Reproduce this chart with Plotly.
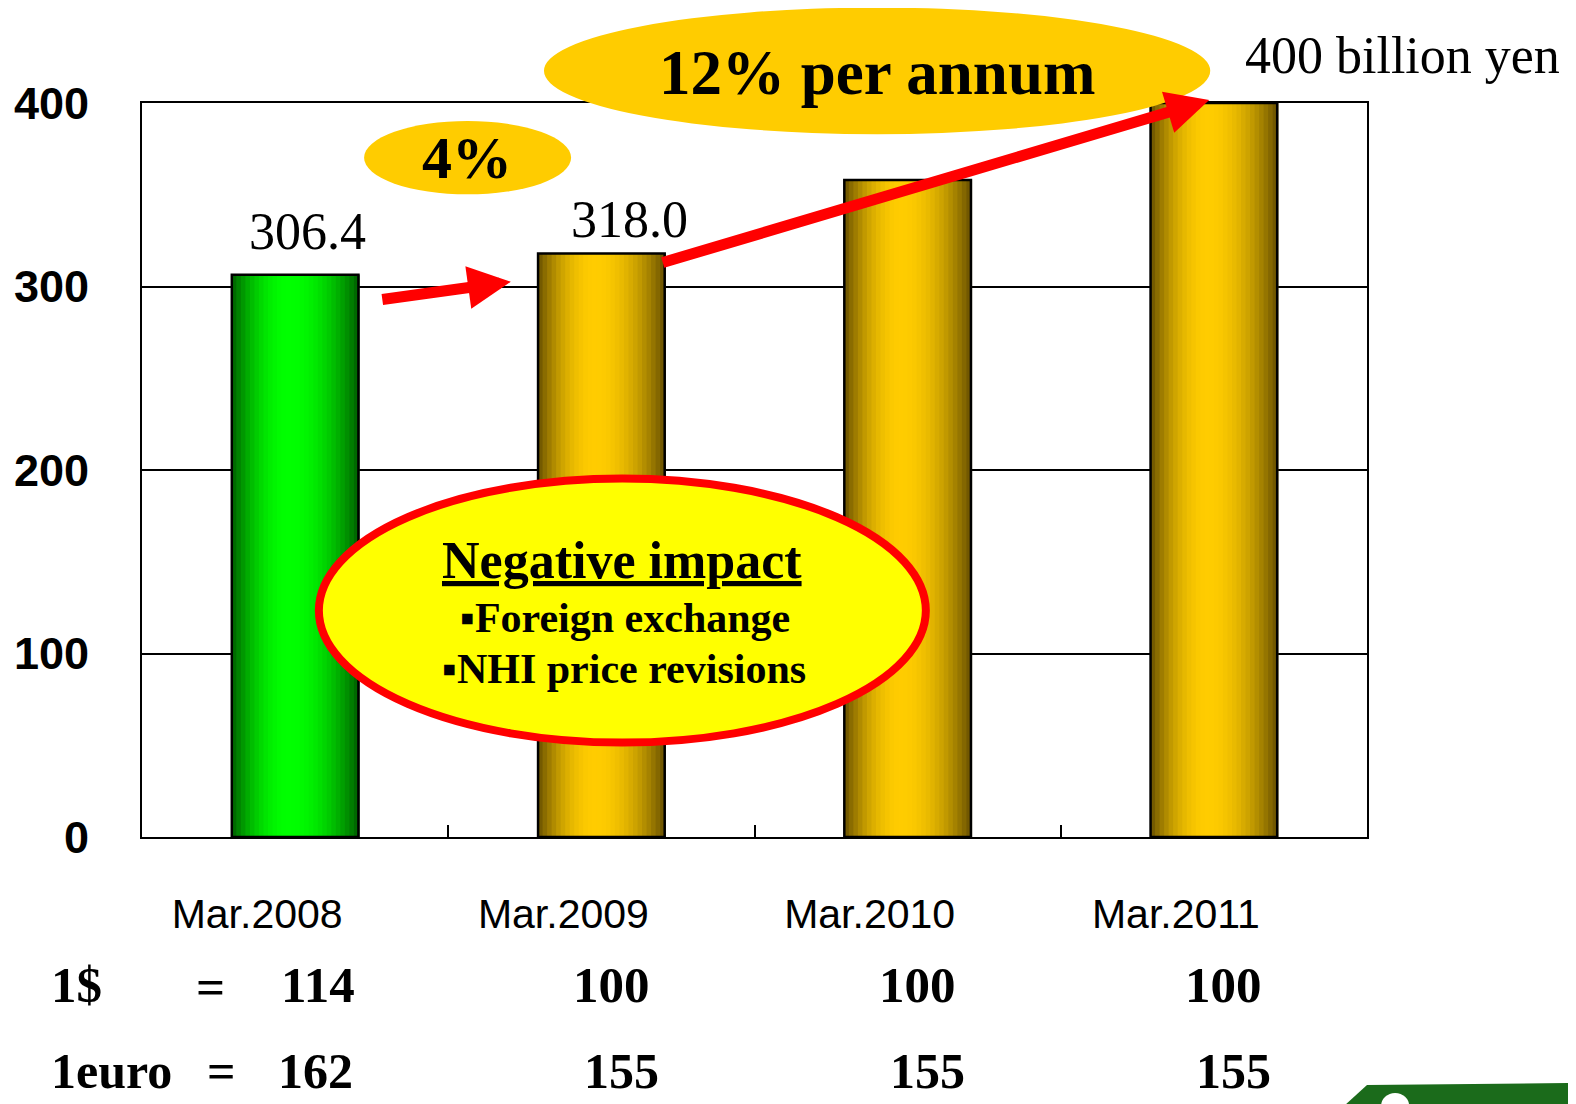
import plotly.graph_objects as go

# ---------------- data ----------------
categories = ["Mar.2008", "Mar.2009", "Mar.2010", "Mar.2011"]
sales = [306.4, 318.0, 358.0, 400.0]
value_labels = ["306.4", "318.0"]
usd_rates = [114, 100, 100, 100]
eur_rates = [162, 155, 155, 155]
y_ticks = [0, 100, 200, 300, 400]

# ---------------- layout helpers ----------------
W, H = 1576, 1104
S = 1576 / 1568.0   # measured positions -> full-size pixels
OFF = 8             # page body margin offset


def fx(x):
    return x * S - OFF


def fy(y):
    return y * S - OFF


L, R, T, B = fx(141), fx(1360), fy(102), fy(833)


def px(x):
    return (fx(x) - L) / (R - L)


def py(y):
    return (B - fy(y)) / (B - T)


SERIF = "Liberation Serif, Times New Roman, serif"
SANS = "Liberation Sans, Arial, sans-serif"

bar_w = 0.4135
n_slices = 28
slice_w = bar_w / n_slices


def shade(dark, bright, t, peak=0.45):
    if t < peak:
        f = 1 - ((peak - t) / peak) ** 2
    else:
        f = 1 - ((t - peak) / (1 - peak)) ** 2
    f = max(0.0, min(1.0, f))
    return "rgb(%d,%d,%d)" % tuple(round(d + (b - d) * f) for d, b in zip(dark, bright))


GOLD_D, GOLD_B = (104, 80, 0), (255, 204, 0)
GREEN_D, GREEN_B = (0, 95, 0), (0, 255, 0)

fig = go.Figure()
for i in range(n_slices):
    t = (i + 0.5) / n_slices
    cols = [shade(GREEN_D, GREEN_B, t)] + [shade(GOLD_D, GOLD_B, t)] * 3
    fig.add_trace(go.Bar(
        x=categories, y=sales, width=slice_w * 1.25, offset=-bar_w / 2 + i * slice_w,
        marker=dict(color=cols, line=dict(width=0)),
        showlegend=False, hoverinfo="skip"))
# outline
fig.add_trace(go.Bar(
    x=categories, y=sales, width=bar_w, offset=-bar_w / 2,
    marker=dict(color="rgba(0,0,0,0)", line=dict(color="black", width=2.5)),
    showlegend=False, hoverinfo="skip"))

fig.update_layout(
    width=W, height=H, barmode="overlay",
    margin=dict(l=L, r=W - R, t=T, b=H - B, pad=0, autoexpand=False),
    paper_bgcolor="white", plot_bgcolor="white",
    showlegend=False,
)
fig.update_xaxes(
    type="category", range=[-0.5, 3.5], automargin=False,
    showline=True, linecolor="black", linewidth=2, mirror=True,
    ticks="inside", tickson="boundaries", ticklen=12, tickwidth=2, tickcolor="black",
    showgrid=False, ticklabelstandoff=40, ticklabelshift=-38,
    tickfont=dict(family=SANS, size=41, color="black"),
)
fig.update_yaxes(
    range=[0, 400], tickvals=y_ticks, ticktext=[str(v) for v in y_ticks], automargin=False,
    showline=True, linecolor="black", linewidth=2, mirror=True,
    showgrid=True, gridcolor="black", gridwidth=2, zeroline=False, ticks="",
    ticklabelstandoff=42,
    tickfont=dict(family=SANS, size=45, color="black", weight="bold"),
)

shapes = []
# big ellipse "12% per annum"
shapes.append(dict(type="circle", xref="paper", yref="paper",
                   x0=px(541), x1=px(1204), y0=py(133), y1=py(7),
                   fillcolor="#FFCC00", line=dict(width=0)))
# small ellipse "4%"
shapes.append(dict(type="circle", xref="paper", yref="paper",
                   x0=px(362), x1=px(568), y0=py(193), y1=py(120),
                   fillcolor="#FFCC00", line=dict(width=0)))
# negative impact ellipse
shapes.append(dict(type="circle", xref="paper", yref="paper",
                   x0=px(317), x1=px(921), y0=py(739), y1=py(476),
                   fillcolor="#FFFF00", line=dict(color="#FF0000", width=8)))
# green logo fragment bottom right
shapes.append(dict(type="path", xref="paper", yref="paper",
                   path="M %f,%f L %f,%f L %f,%f L %f,%f Z" % (
                       px(1336), py(1102), px(1360), py(1080),
                       px(1572), py(1078), px(1572), py(1102)),
                   fillcolor="#1B6B1B", line=dict(width=0)))
shapes.append(dict(type="circle", xref="paper", yref="paper",
                   x0=px(1374), x1=px(1402), y0=py(1114), y1=py(1088),
                   fillcolor="white", line=dict(width=0)))
fig.update_layout(shapes=shapes)

ann = []


def text(x, y, s, size, bold=False, family=SERIF, xanchor="center", yanchor="middle"):
    ann.append(dict(xref="paper", yref="paper", x=px(x), y=py(y), text=s,
                    showarrow=False, xanchor=xanchor, yanchor=yanchor,
                    font=dict(family=family, size=size, color="black",
                              weight="bold" if bold else "normal")))


text(872, 72, "12% per annum", 63, bold=True)
text(464, 157, "4%", 60, bold=True)
text(306, 230, value_labels[0], 52)
text(626, 218, value_labels[1], 52)
text(1395, 55, "400 billion yen", 52)
text(619, 558, "<u>Negative impact</u>", 52, bold=True)
text(622, 615, "▪Foreign exchange", 42, bold=True)
text(621, 666, "▪NHI price revisions", 42, bold=True)

# exchange rate rows
ROW1_Y = 980
ROW2_B = 1096
text(48, ROW1_Y, "1$", 51, bold=True, xanchor="left")
text(209, ROW1_Y + 2, "=", 51, bold=True)
text(48, ROW2_B, "1euro", 50, bold=True, xanchor="left", yanchor="bottom")
text(220, ROW2_B, "=", 50, bold=True, yanchor="bottom")
usd_shift = [23, 10, 10, 10]
for c, v, s in zip(categories, usd_rates, usd_shift):
    ann.append(dict(xref="x", yref="paper", x=c, y=py(ROW1_Y), xshift=s, text=str(v),
                    showarrow=False, xanchor="center", yanchor="middle",
                    font=dict(family=SERIF, size=51, color="black", weight="bold")))
for c, v in zip(categories, eur_rates):
    ann.append(dict(xref="x", yref="paper", x=c, y=py(ROW2_B), xshift=20, text=str(v),
                    showarrow=False, xanchor="center", yanchor="bottom",
                    font=dict(family=SERIF, size=50, color="black", weight="bold")))

# arrows
ann.append(dict(xref="paper", yref="paper", x=px(508), y=py(280), ax=-130, ay=18,
                text="", showarrow=True, arrowhead=2, arrowsize=0.78, arrowwidth=11,
                arrowcolor="#FF0000", standoff=0))
ann.append(dict(xref="paper", yref="paper", x=px(1203), y=py(99), ax=-548, ay=163,
                text="", showarrow=True, arrowhead=2, arrowsize=0.78, arrowwidth=11,
                arrowcolor="#FF0000", standoff=0))
fig.update_layout(annotations=ann)

fig.write_html("out.html")
